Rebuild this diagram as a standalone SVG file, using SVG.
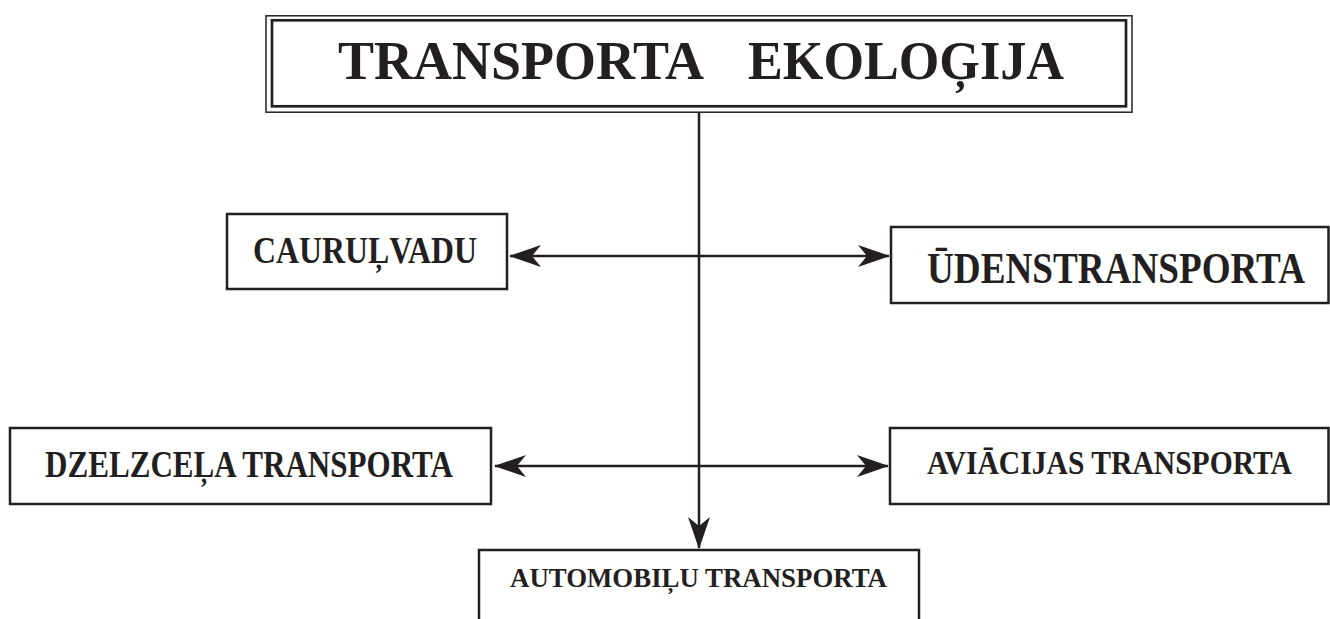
<svg xmlns="http://www.w3.org/2000/svg" width="1330" height="619" viewBox="0 0 1330 619">
<style>
.box{fill:#fff;stroke:#231f20;stroke-width:2.5}
.t{font-family:"Liberation Serif","Times New Roman",serif;font-weight:bold;fill:#231f20}
.c{stroke:#231f20;stroke-width:2.5;fill:none}
</style>
<defs>
<marker id="ah" viewBox="0 0 32 22" refX="31" refY="11" markerWidth="32" markerHeight="22" markerUnits="userSpaceOnUse" orient="auto-start-reverse">
<path d="M32,11 L0,0 L9,11 L0,22 Z" fill="#231f20"/>
</marker>
</defs>
<rect width="1330" height="619" fill="#fff"/>
<g id="connectors">
<line class="c" x1="699" y1="112" x2="699" y2="548" marker-end="url(#ah)"/>
<line class="c" x1="510" y1="256" x2="889" y2="256" marker-start="url(#ah)" marker-end="url(#ah)"/>
<line class="c" x1="495" y1="466" x2="888" y2="466" marker-start="url(#ah)" marker-end="url(#ah)"/>
</g>
<g id="title">
<rect x="266" y="15.8" width="866" height="96.4" fill="#fff" stroke="#231f20" stroke-width="1.5"/>
<rect x="272" y="20.3" width="854" height="86" fill="none" stroke="#231f20" stroke-width="2.7"/>
<text class="t" x="338" y="79" font-size="54" textLength="366" lengthAdjust="spacingAndGlyphs">TRANSPORTA</text>
<text class="t" x="748" y="79" font-size="54" textLength="316" lengthAdjust="spacingAndGlyphs">EKOLOĢIJA</text>
</g>
<g id="caurulvadu">
<rect class="box" x="227" y="214" width="280" height="75"/>
<text class="t" x="253" y="263" font-size="37" textLength="224" lengthAdjust="spacingAndGlyphs">CAURUĻVADU</text>
</g>
<g id="udenstransporta">
<rect class="box" x="891" y="227" width="437.5" height="76"/>
<text class="t" x="927" y="283" font-size="44" textLength="378" lengthAdjust="spacingAndGlyphs">ŪDENSTRANSPORTA</text>
</g>
<g id="dzelzcela">
<rect class="box" x="10" y="428" width="481" height="76"/>
<text class="t" x="45" y="477" font-size="37" textLength="408" lengthAdjust="spacingAndGlyphs">DZELZCEĻA TRANSPORTA</text>
</g>
<g id="aviacijas">
<rect class="box" x="890" y="428" width="438.5" height="76"/>
<text class="t" x="927" y="474" font-size="34" textLength="365" lengthAdjust="spacingAndGlyphs">AVIĀCIJAS TRANSPORTA</text>
</g>
<g id="automobilu">
<path class="box" d="M479,625 V550 H919 V625"/>
<text class="t" x="510" y="587" font-size="28" textLength="377" lengthAdjust="spacingAndGlyphs">AUTOMOBIĻU TRANSPORTA</text>
</g>
</svg>
